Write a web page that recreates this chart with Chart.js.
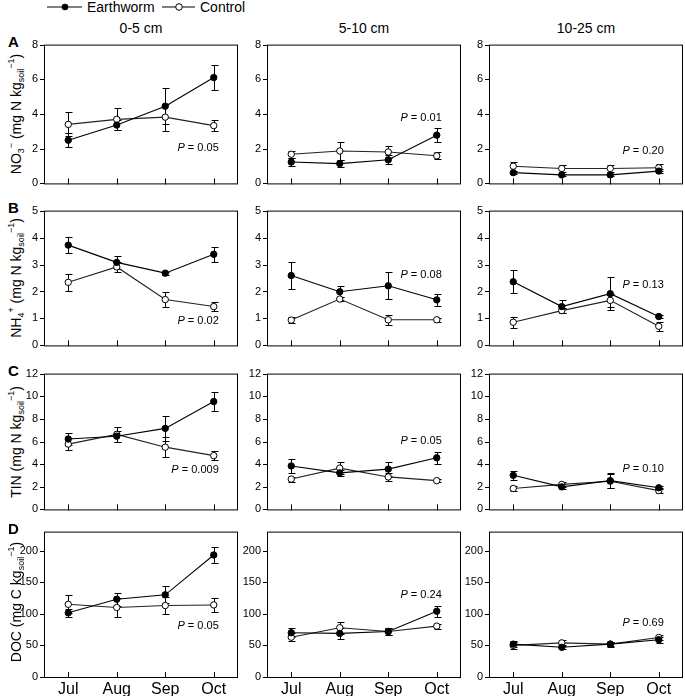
<!DOCTYPE html>
<html>
<head>
<meta charset="utf-8">
<script src="https://cdn.jsdelivr.net/npm/chart.js@4.4.1/dist/chart.umd.min.js"></script>
<style>
    body { margin: 0; background: #fff; font-family: Arial, "Liberation Sans", sans-serif; color: #000; }
    #fig { position: relative; width: 685px; height: 696px; overflow: hidden; }
    #fig canvas { position: absolute; }
    .txt { position: absolute; white-space: nowrap; line-height: 1; }
    .coltitle { font-size: 14px; transform: translateX(-50%); }
    .letter { font-size: 15px; font-weight: bold; }
    .ytitle { font-size: 14px; transform: translate(-50%, -50%) rotate(-90deg); }
    .ytitle sub { font-size: 9px; vertical-align: -3px; }
    .ytitle sup { font-size: 9px; vertical-align: 7px; }
    .leg { font-size: 14px; top: 0px; }
</style>
</head>
<body>
<div id="fig">
    <svg class="txt" style="left:0;top:0" width="220" height="14">
        <line x1="47" y1="7" x2="82" y2="7" stroke="#000" stroke-width="1.2"/>
        <circle cx="65" cy="7" r="3.3" fill="#000"/>
        <line x1="162" y1="7" x2="195" y2="7" stroke="#000" stroke-width="1.2"/>
        <circle cx="179" cy="7" r="3.3" fill="#fff" stroke="#000"/>
    </svg>
    <div class="txt leg" style="left:87px">Earthworm</div>
    <div class="txt leg" style="left:200px">Control</div>
</div>
<script>
const months = ['Jul', 'Aug', 'Sep', 'Oct']
const depths = ['0-5 cm', '5-10 cm', '10-25 cm']

// NO3- : one inner array per depth (0-5, 5-10, 10-25 cm)
const no3Worm = [[2.49, 3.36, 4.45, 6.1], [1.23, 1.14, 1.36, 2.78], [0.62, 0.49, 0.49, 0.71]]
const no3WormSe = [[0.42, 0.3, 1.05, 0.7], [0.23, 0.2, 0.25, 0.4], [0.1, 0.07, 0.07, 0.1]]
const no3Ctrl = [[3.4, 3.69, 3.82, 3.33], [1.68, 1.87, 1.81, 1.59], [0.99, 0.86, 0.86, 0.9]]
const no3CtrlSe = [[0.69, 0.64, 0.78, 0.32], [0.2, 0.5, 0.35, 0.2], [0.25, 0.2, 0.2, 0.2]]
const no3P = ['0.05', '0.01', '0.20']

// NH4+
const nh4Worm = [[3.72, 3.08, 2.68, 3.38], [2.59, 1.99, 2.21, 1.69], [2.36, 1.44, 1.92, 1.07]]
const nh4WormSe = [[0.29, 0.23, 0.06, 0.27], [0.49, 0.21, 0.5, 0.23], [0.42, 0.23, 0.6, 0.07]]
const nh4Ctrl = [[2.34, 2.91, 1.7, 1.44], [0.94, 1.72, 0.95, 0.95], [0.86, 1.29, 1.67, 0.71]]
const nh4CtrlSe = [[0.32, 0.2, 0.29, 0.16], [0.1, 0.08, 0.18, 0.08], [0.2, 0.08, 0.25, 0.17]]
const nh4P = ['0.02', '0.08', '0.13']

// TIN
const tinWorm = [[6.22, 6.47, 7.16, 9.53], [3.84, 3.23, 3.56, 4.56], [3.01, 1.99, 2.54, 1.91]]
const tinWormSe = [[0.55, 0.5, 1.1, 0.8], [0.62, 0.28, 0.62, 0.51], [0.37, 0.22, 0.65, 0.14]]
const tinCtrl = [[5.77, 6.63, 5.5, 4.75], [2.68, 3.65, 2.87, 2.54], [1.85, 2.21, 2.49, 1.66]]
const tinCtrlSe = [[0.55, 0.65, 0.9, 0.4], [0.22, 0.52, 0.35, 0.14], [0.2, 0.22, 0.6, 0.22]]
const tinP = ['0.009', '0.05', '0.10']

// DOC
const docWorm = [[101.5, 123, 130, 193], [70, 69, 72, 104], [52, 47, 52, 59]]
const docWormSe = [[6.5, 10, 13.5, 13], [7, 9, 5, 9], [5, 3, 3, 5]]
const docCtrl = [[115, 110, 113, 114], [63, 78, 72, 80.5], [50, 54, 52, 62.5]]
const docCtrlSe = [[14, 15, 13, 11], [6, 9.5, 5, 4], [6, 5, 4, 4]]
const docP = ['0.05', '0.24', '0.69']

// axis ranges
const yMax = [8, 5, 12, 230]
const yStep = [2, 1, 2, 50]

// where the P note sits (in axis units)
const pNoteAt = [[2.05, 3.8, 1.85], [0.92, 2.6, 2.25], [3.5, 6.05, 3.6], [80, 130, 85]]

const rows = [
    { letter: 'A', title: 'NO<sub>3</sub><sup>&minus;</sup> (mg N kg<sub>soil</sub><sup>&minus;1</sup>)', worm: no3Worm, wormSe: no3WormSe, ctrl: no3Ctrl, ctrlSe: no3CtrlSe, p: no3P },
    { letter: 'B', title: 'NH<sub>4</sub><sup>+</sup> (mg N kg<sub>soil</sub><sup>&minus;1</sup>)', worm: nh4Worm, wormSe: nh4WormSe, ctrl: nh4Ctrl, ctrlSe: nh4CtrlSe, p: nh4P },
    { letter: 'C', title: 'TIN (mg N kg<sub>soil</sub><sup>&minus;1</sup>)', worm: tinWorm, wormSe: tinWormSe, ctrl: tinCtrl, ctrlSe: tinCtrlSe, p: tinP },
    { letter: 'D', title: 'DOC (mg C kg<sub>soil</sub><sup>&minus;1</sup>)', worm: docWorm, wormSe: docWormSe, ctrl: docCtrl, ctrlSe: docCtrlSe, p: docP }
]

// layout of the plot boxes
const colLeft = [44, 267, 489]
const boxW = 194
const rowTop = [40, 206, 369, 527]
const rowBottom = [188, 350, 514, 677]
const YW = 34
const PAD = 8
const XH = 20

const fig = document.getElementById('fig')

function addText(cls, html, left, top) {
    const d = document.createElement('div')
    d.className = 'txt ' + cls
    d.innerHTML = html
    d.style.left = left + 'px'
    d.style.top = top + 'px'
    fig.appendChild(d)
}

// column titles
depths.forEach((t, c) => addText('coltitle', t, colLeft[c] + boxW / 2, 21))

// frame + tick marks (y ticks out, x ticks in)
const framePlugin = {
    id: 'frame',
    afterDraw(chart) {
        const { ctx, chartArea: a, scales: { x, y } } = chart
        ctx.save()
        ctx.strokeStyle = '#000'
        ctx.lineWidth = 1
        ctx.strokeRect(a.left + 0.5, a.top + 0.5, a.right - a.left - 1, a.bottom - a.top)
        ctx.beginPath()
        y.ticks.forEach((t, i) => {
            const py = Math.round(y.getPixelForTick(i)) + 0.5
            ctx.moveTo(a.left - 4, py)
            ctx.lineTo(a.left, py)
        })
        x.ticks.forEach((t, i) => {
            const px = Math.round(x.getPixelForTick(i)) + 0.5
            ctx.moveTo(px, a.bottom + 1)
            ctx.lineTo(px, a.bottom - 5)
        })
        ctx.stroke()
        ctx.restore()
    }
}

function errorBarPlugin(se) {
    return {
        id: 'errbars',
        beforeDatasetsDraw(chart) {
            const { ctx, scales: { x, y } } = chart
            ctx.save()
            ctx.strokeStyle = '#000'
            ctx.lineWidth = 1
            ctx.beginPath()
            chart.data.datasets.forEach((ds, d) => {
                ds.data.forEach((v, i) => {
                    const px = Math.round(x.getPixelForValue(i)) + 0.5
                    const hi = Math.round(y.getPixelForValue(v + se[d][i])) + 0.5
                    const lo = Math.round(y.getPixelForValue(v - se[d][i])) + 0.5
                    ctx.moveTo(px, hi); ctx.lineTo(px, lo)
                    ctx.moveTo(px - 3, hi); ctx.lineTo(px + 4, hi)
                    ctx.moveTo(px - 3, lo); ctx.lineTo(px + 4, lo)
                })
            })
            ctx.stroke()
            ctx.restore()
        }
    }
}

function pNotePlugin(text, at) {
    return {
        id: 'pnote',
        afterDraw(chart) {
            const { ctx, scales: { x, y } } = chart
            const right = x.getPixelForValue(3) + 5
            const py = y.getPixelForValue(at)
            const rest = ' = ' + text
            ctx.save()
            ctx.fillStyle = '#000'
            ctx.textBaseline = 'middle'
            ctx.font = '11px Arial'
            const w2 = ctx.measureText(rest).width
            ctx.fillText(rest, right - w2, py)
            ctx.font = 'italic 11px Arial'
            const w1 = ctx.measureText('P').width
            ctx.fillText('P', right - w2 - w1, py)
            ctx.restore()
        }
    }
}

rows.forEach((row, r) => {
    const boxH = rowBottom[r] - rowTop[r]
    const isLast = r === rows.length - 1

    addText('letter', row.letter, 8, rowTop[r] - 6)
    const t = document.createElement('div')
    t.className = 'txt ytitle'
    t.innerHTML = row.title
    t.style.left = '16px'
    t.style.top = (rowTop[r] + boxH / 2) + 'px'
    fig.appendChild(t)

    for (let c = 0; c < 3; c++) {
        const cv = document.createElement('canvas')
        cv.width = YW + boxW + PAD
        cv.height = PAD + boxH + (isLast ? XH : PAD)
        cv.style.left = (colLeft[c] - YW) + 'px'
        cv.style.top = (rowTop[r] - PAD) + 'px'
        fig.appendChild(cv)

        new Chart(cv, {
            type: 'line',
            data: {
                labels: months,
                datasets: [
                    {
                        label: 'Earthworm', data: row.worm[c],
                        borderColor: '#000', borderWidth: 1.1,
                        pointRadius: 3.2, pointBorderWidth: 1,
                        pointBackgroundColor: '#000', pointBorderColor: '#000'
                    },
                    {
                        label: 'Control', data: row.ctrl[c],
                        borderColor: '#222', borderWidth: 1.1,
                        pointRadius: 3.2, pointBorderWidth: 1,
                        pointBackgroundColor: '#fff', pointBorderColor: '#000'
                    }
                ]
            },
            options: {
                responsive: false,
                animation: false,
                devicePixelRatio: 1,
                layout: { padding: { top: PAD, right: PAD, bottom: isLast ? 0 : PAD, left: 0 } },
                plugins: { legend: { display: false }, tooltip: { enabled: false } },
                scales: {
                    x: {
                        offset: true,
                        grid: { display: false, drawTicks: false },
                        border: { display: false },
                        ticks: { display: isLast, padding: 3, color: '#000', font: { size: 16, family: 'Arial' } },
                        afterFit: s => { s.height = isLast ? XH : 0 }
                    },
                    y: {
                        min: 0, max: yMax[r],
                        grid: { display: false, drawTicks: false },
                        border: { display: false },
                        ticks: { stepSize: yStep[r], padding: 6, color: '#000', font: { size: 11, family: 'Arial' } },
                        afterBuildTicks: s => { s.ticks = s.ticks.filter(t => t.value % yStep[r] === 0) },
                        afterFit: s => { s.width = YW }
                    }
                }
            },
            plugins: [framePlugin, errorBarPlugin([row.wormSe[c], row.ctrlSe[c]]), pNotePlugin(row.p[c], pNoteAt[r][c])]
        })
    }
})
</script>
</body>
</html>
